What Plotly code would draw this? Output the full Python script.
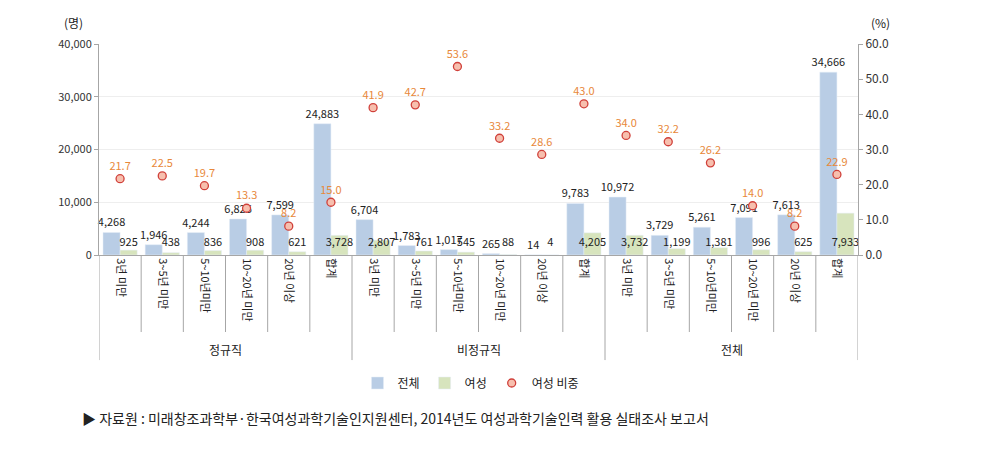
import plotly.graph_objects as go

groups = ["정규직", "비정규직", "전체"]
periods = ["3년 미만", "3~5년 미만", "5~10년미만", "10~20년 미만", "20년 이상", "합계"]
total = [4268, 1946, 4244, 6826, 7599, 24883,
         6704, 1783, 1017, 265, 14, 9783,
         10972, 3729, 5261, 7091, 7613, 34666]
female = [925, 438, 836, 908, 621, 3728,
          2807, 761, 545, 88, 4, 4205,
          3732, 1199, 1381, 996, 625, 7933]
share = [21.7, 22.5, 19.7, 13.3, 8.2, 15.0,
         41.9, 42.7, 53.6, 33.2, 28.6, 43.0,
         34.0, 32.2, 26.2, 14.0, 8.2, 22.9]

FONT = "Noto Sans CJK KR"
n = len(total)
xs = list(range(n))
labels = [p for g in groups for p in periods]
BARGAP = 0.19
half = (1 - BARGAP) / 4  # center offset of each bar in the pair

# page body has an 8px default margin, so the figure is 8px smaller
W, H = 985 - 8, 460 - 8

fig = go.Figure()
fig.add_trace(go.Bar(x=xs, y=total, name="전체", marker_color="#B9CDE5",
                     text=[f"{v:,}" for v in total], textposition="outside",
                     constraintext="none",
                     textfont=dict(size=11, color="#222222"), cliponaxis=False))
fig.add_trace(go.Bar(x=xs, y=female, name="여성", marker_color="#D7E4BD"))
# female labels sit on a common baseline just above the axis
fig.add_trace(go.Scatter(x=[i + half for i in xs], y=[2300] * n, mode="text",
                         text=[f"{v:,}" for v in female], showlegend=False,
                         textfont=dict(size=11, color="#222222"), hoverinfo="skip",
                         cliponaxis=False))
fig.add_trace(go.Scatter(x=xs, y=share, name="여성 비중", yaxis="y2",
                         mode="markers+text", text=[f"{v:.1f}" for v in share],
                         textposition="top center",
                         textfont=dict(size=11, color="#E8883A"),
                         marker=dict(symbol="circle", size=8, color="#F7BFAE",
                                     line=dict(color="#D0403A", width=1.3)),
                         cliponaxis=False))

shapes = []
for b in range(n + 1):
    xb = b - 0.5
    y0 = -0.498 if b % 6 == 0 else -0.365
    shapes.append(dict(type="line", xref="x", yref="paper", x0=xb, x1=xb,
                       y0=0, y1=y0, line=dict(color="#A6A6A6", width=1)))

annotations = []
for gi, g in enumerate(groups):
    annotations.append(dict(x=gi * 6 + 2.5, y=-0.45, xref="x", yref="paper",
                            xanchor="center", yanchor="middle",
                            text=g, showarrow=False,
                            font=dict(size=12, color="#222222", family=FONT)))
annotations += [
    dict(x=-0.033, y=1.104, xref="paper", yref="paper", xanchor="center",
         yanchor="middle", text="(명)", showarrow=False,
         font=dict(size=12, color="#222222", family=FONT)),
    dict(x=1.029, y=1.104, xref="paper", yref="paper", xanchor="center",
         yanchor="middle", text="(%)", showarrow=False,
         font=dict(size=12, color="#222222", family=FONT)),
    dict(x=-0.025, y=-0.7725, xref="paper", yref="paper", xanchor="left",
         yanchor="middle",
         text="▶ 자료원 : 미래창조과학부·한국여성과학기술인지원센터, 2014년도 여성과학기술인력 활용 실태조사 보고서",
         showarrow=False, font=dict(size=14, color="#222222", family=FONT)),
]

fig.update_layout(
    width=W, height=H,
    margin=dict(l=91, r=127, t=36, b=205, autoexpand=False),
    paper_bgcolor="white", plot_bgcolor="white",
    font=dict(family=FONT, size=11, color="#333333"),
    barmode="group", bargap=BARGAP, bargroupgap=0,
    xaxis=dict(range=[-0.5, n - 0.5], tickvals=xs, ticktext=labels, tickangle=90,
               showline=True, linecolor="#A6A6A6", ticks="", showgrid=False,
               tickfont=dict(size=11, color="#222222"), zeroline=False,
               automargin=False),
    yaxis=dict(range=[0, 40000], tickvals=[0, 10000, 20000, 30000, 40000],
               tickformat=",", showline=True, linecolor="#A6A6A6", ticks="outside",
               ticklen=4, tickcolor="#A6A6A6", gridcolor="#EEEEEE", zeroline=False,
               tickfont=dict(size=11, color="#333333"), automargin=False),
    yaxis2=dict(range=[0, 60], overlaying="y", side="right",
                tickvals=[0, 10, 20, 30, 40, 50, 60], tickformat=".1f",
                showline=True, linecolor="#A6A6A6", ticks="outside", ticklen=4,
                tickcolor="#A6A6A6", showgrid=False, zeroline=False,
                tickfont=dict(size=12, color="#333333"), automargin=False),
    legend=dict(orientation="h", x=(471 - 8) / W, xanchor="center", xref="container",
                y=1 - (383 - 8) / H, yanchor="middle", yref="container",
                font=dict(size=12, color="#222222"), itemwidth=30,
                traceorder="normal"),
    shapes=shapes, annotations=annotations, showlegend=True,
)

fig.write_html("out.html")
